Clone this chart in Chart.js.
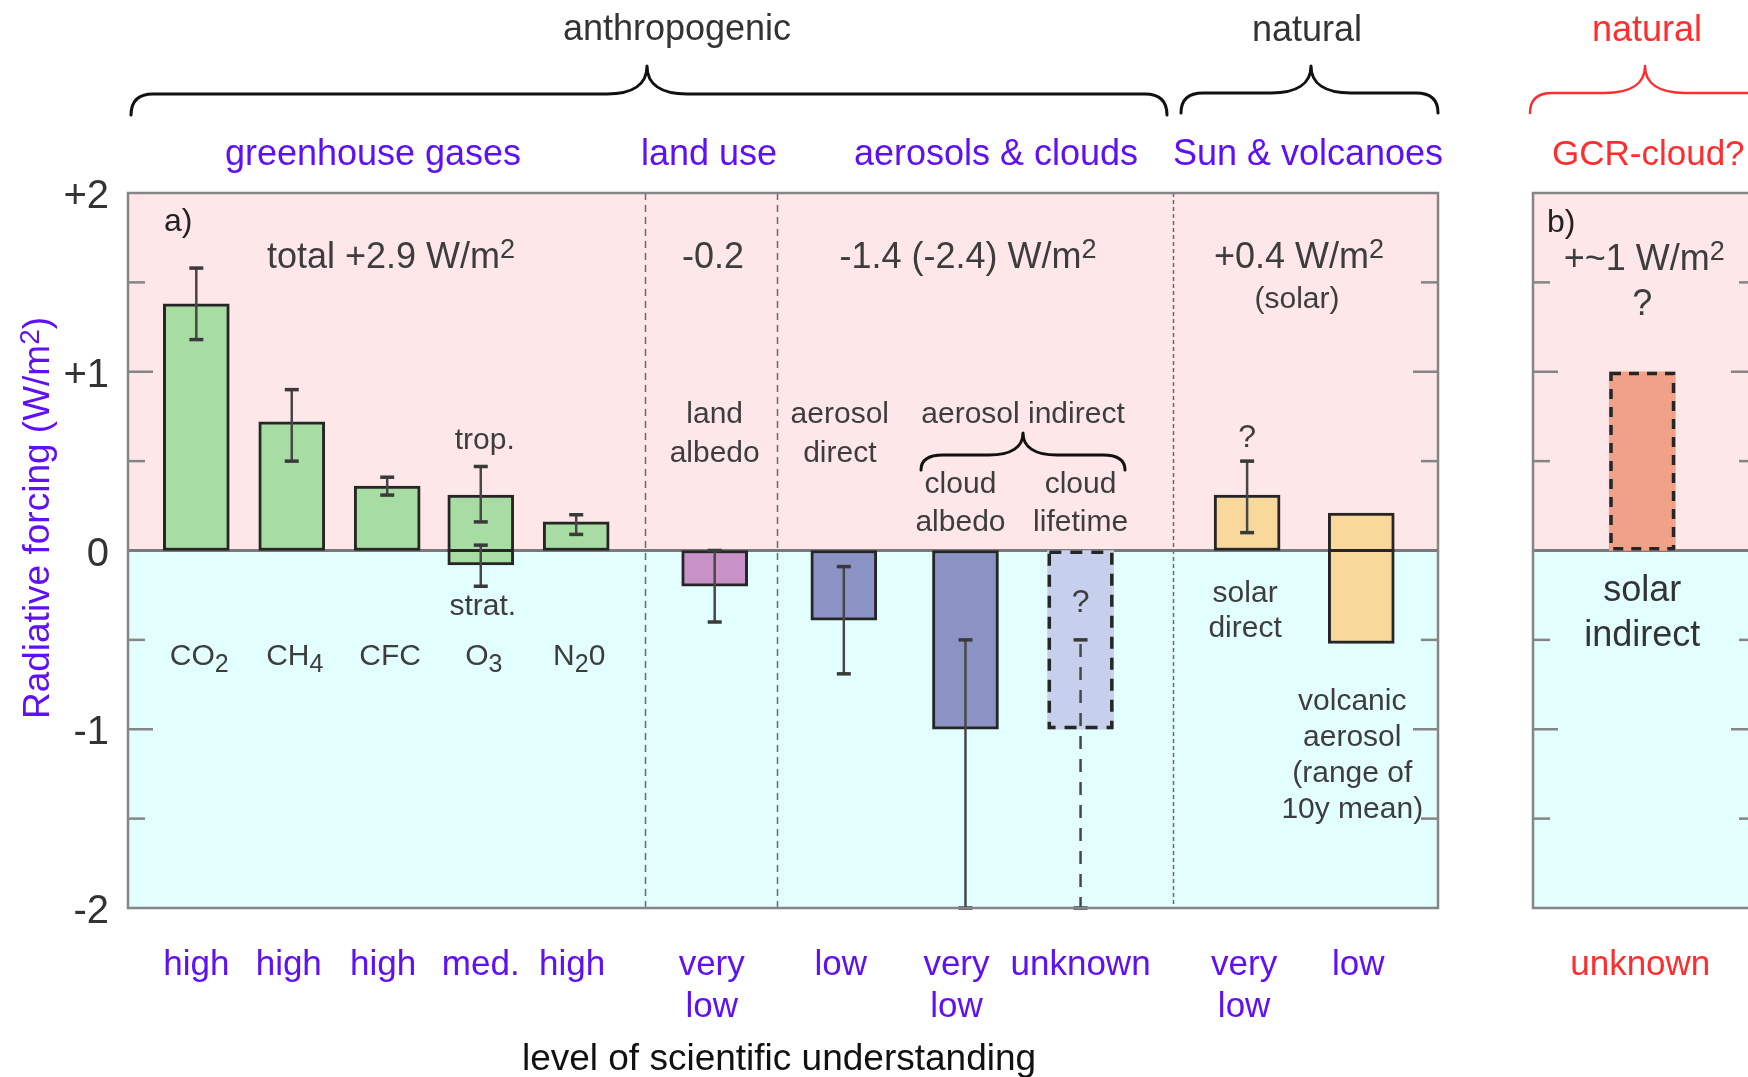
<!DOCTYPE html>
<html>
<head>
<meta charset="utf-8">
<title>Radiative forcing</title>
<script src="https://cdn.jsdelivr.net/npm/chart.js@4/dist/chart.umd.min.js"></script>
<style>
  html, body { margin: 0; padding: 0; background: #fff; overflow: hidden; }
  #wrap { position: relative; width: 1748px; height: 1077px; overflow: hidden; background: #fff; }
  canvas { position: absolute; top: 0; }
  #panelA { left: 0; }
  #panelB { left: 1440px; }
</style>
</head>
<body>
<div id="wrap">
  <canvas id="panelA" width="1748" height="1077"></canvas>
  <canvas id="panelB" width="330" height="1077"></canvas>
</div>
<script>
// ---------------- data ----------------
// panel a: forcing agents (W/m2). "_" marks a subscript, "^" a superscript.
const forcingLabels = ['CO_2', 'CH_4', 'CFC', 'O_3', 'N_20', 'land albedo', 'aerosol direct',
                       'cloud albedo', 'cloud lifetime', 'solar direct', 'volcanic aerosol'];
const forcingColumn = [0.73, 1.75, 2.77, 3.77, 4.79, 6.27, 7.65, 8.95, 10.18, 11.96, 13.18];
const forcingLow  = [0, 0, 0, -0.08, 0, -0.20, -0.39, -1.00, -1.00, 0, -0.52];
const forcingHigh = [1.38, 0.72, 0.36, 0.31, 0.16, 0, 0, 0, 0, 0.31, 0.21];

// uncertainty ranges; O3 has two (tropospheric and stratospheric)
const errorBar  = [0, 1, 2, 3, 3, 4, 5, 6, 7, 8, 9];
const errorLow  = [1.18, 0.50, 0.31, 0.16, -0.20, 0.09, -0.40, -0.69, -2.00, -2.00, 0.10];
const errorHigh = [1.58, 0.90, 0.41, 0.47, 0.03, 0.20, 0.00, -0.09, -0.50, -0.50, 0.50];

// level of scientific understanding under each bar
const understanding = [['high'], ['high'], ['high'], ['med.'], ['high'], ['very', 'low'], ['low'],
                       ['very', 'low'], ['unknown'], ['very', 'low'], ['low']];

// group totals and group boundaries (x axis units)
const groupTotals = ['total +2.9 W/m^2', '-0.2', '-1.4 (-2.4) W/m^2', '+0.4 W/m^2'];
const groupBoundaries = [5.52, 6.94, 11.17];

const yTickValues = [-2, -1, 0, 1, 2];
const yTickLabels = ['-2', '-1', '0', '+1', '+2'];
const yMinorTicks = [-1.5, -1, -0.5, 0.5, 1, 1.5];

// panel b: GCR-cloud (solar indirect) estimate
const gcrLabel = ['solar', 'indirect'];
const gcrColumn = [0.49];
const gcrLow = [0];
const gcrHigh = [1.0];

// ---------------- styles ----------------
const FONT = '"Liberation Sans", Arial, Helvetica, sans-serif';
Chart.defaults.font.family = FONT;
const PURPLE = '#5f10f5', RED = '#ff2d2d', INK = '#3d3d3d', DARK = '#262626';
const PINK = '#fde7e9', CYAN = '#e3fefe', FRAME = '#858585';
const fillsA = ['#a7dca3', '#a7dca3', '#a7dca3', '#a7dca3', '#a7dca3', '#c892c8', '#8b93c4',
                '#8b93c4', '#c6cfec', '#f9d99b', '#f9d99b'];
const dashedA = [false, false, false, false, false, false, false, false, true, false, false];
// small horizontal nudges of the understanding labels (px)
const understandingNudge = [0, -3, -4, 0, -4, -3, -3, -9, 0, -3, -3];

// ---------------- drawing helpers ----------------
function setFont(ctx, size) { ctx.font = size + 'px ' + FONT; }

function line(ctx, x1, y1, x2, y2) {
  ctx.beginPath(); ctx.moveTo(x1, y1); ctx.lineTo(x2, y2); ctx.stroke();
}

// split "W/m^2" / "CO_2" into pieces [text, size, baseline shift]
function pieces(str, size) {
  const out = [];
  const re = /([\^_])(\d)/g;
  let last = 0, m;
  while ((m = re.exec(str))) {
    if (m.index > last) out.push([str.slice(last, m.index), size, 0]);
    if (m[1] === '^') out.push([m[2], Math.round(size * 0.75), -Math.round(size * 0.27)]);
    else out.push([m[2], Math.round(size * 0.82), Math.round(size * 0.24)]);
    last = re.lastIndex;
  }
  if (last < str.length) out.push([str.slice(last), size, 0]);
  return out;
}

function text(ctx, str, x, y, size, color, align) {
  const parts = pieces(str, size);
  ctx.save();
  ctx.fillStyle = color;
  ctx.textBaseline = 'alphabetic';
  ctx.textAlign = 'left';
  let total = 0;
  const widths = parts.map(([t, s]) => { setFont(ctx, s); const w = ctx.measureText(t).width; total += w; return w; });
  let cx = align === 'left' ? x : align === 'right' ? x - total : x - total / 2;
  parts.forEach(([t, s, dy], i) => { setFont(ctx, s); ctx.fillText(t, cx, y + dy); cx += widths[i]; });
  ctx.restore();
}

function lines(ctx, rows, x, y, step, size, color) {
  rows.forEach((r, i) => text(ctx, r, x, y + i * step, size, color, 'center'));
}

function brace(ctx, x1, x2, xt, yEnd, yLine, yTip, color, lw) {
  const r = Math.min(22, (x2 - x1) / 8), s = Math.min(40, (x2 - x1) / 6);
  const h = yLine - yTip;
  ctx.save();
  ctx.strokeStyle = color; ctx.lineWidth = lw; ctx.lineCap = 'round'; ctx.lineJoin = 'round';
  ctx.beginPath();
  ctx.moveTo(x1, yEnd);
  ctx.quadraticCurveTo(x1, yLine, x1 + r, yLine);
  ctx.lineTo(xt - s, yLine);
  ctx.bezierCurveTo(xt - s * 0.35, yLine, xt, yLine - h * 0.35, xt, yTip);
  ctx.bezierCurveTo(xt, yLine - h * 0.35, xt + s * 0.35, yLine, xt + s, yLine);
  ctx.lineTo(x2 - r, yLine);
  ctx.quadraticCurveTo(x2, yLine, x2, yEnd);
  ctx.stroke();
  ctx.restore();
}

function paintBackground(chart) {
  const { ctx, chartArea: a, scales: { y } } = chart;
  const y0 = y.getPixelForValue(0);
  ctx.save();
  ctx.fillStyle = PINK; ctx.fillRect(a.left, a.top, a.width, y0 - a.top);
  ctx.fillStyle = CYAN; ctx.fillRect(a.left, y0, a.width, a.bottom - y0);
  ctx.restore();
}

function zeroLine(chart) {
  const { ctx, chartArea: a, scales: { y } } = chart;
  const y0 = y.getPixelForValue(0);
  ctx.save(); ctx.strokeStyle = '#7a7a7a'; ctx.lineWidth = 3;
  line(ctx, a.left, y0, a.right, y0);
  ctx.restore();
}

function frame(chart) {
  const { ctx, chartArea: a, scales: { y } } = chart;
  ctx.save();
  ctx.strokeStyle = FRAME; ctx.lineWidth = 2.5;
  ctx.strokeRect(a.left, a.top, a.width, a.height);
  yMinorTicks.forEach(v => {
    const py = y.getPixelForValue(v);
    const len = Number.isInteger(v) ? 25 : 17;
    line(ctx, a.left, py, a.left + len, py);
    line(ctx, a.right - len, py, a.right, py);
  });
  ctx.restore();
}

function dashedOutline(ctx, p, dash) {
  const left = p.x - p.width / 2, top = Math.min(p.y, p.base), h = Math.abs(p.base - p.y);
  ctx.save();
  ctx.strokeStyle = DARK; ctx.lineWidth = 3.5; ctx.setLineDash(dash);
  ctx.strokeRect(left + 1.75, top + 1.75, p.width - 3.5, h - 3.5);
  ctx.restore();
}

function errorLine(ctx, px, yLo, yHi, dashed) {
  ctx.save();
  ctx.strokeStyle = '#474747'; ctx.lineWidth = 2.5;
  if (dashed) { ctx.setLineDash([13, 10]); ctx.lineDashOffset = -4; }
  line(ctx, px, yHi, px, yLo);
  ctx.setLineDash([]);
  ctx.lineWidth = 3.5; ctx.strokeStyle = '#3a3a3a';
  line(ctx, px - 7, yHi, px + 7, yHi);
  line(ctx, px - 7, yLo, px + 7, yLo);
  ctx.restore();
}

// ---------------- panel a ----------------
const panelAArt = {
  id: 'panelAArt',
  beforeDraw(chart) { paintBackground(chart); },
  beforeDatasetsDraw(chart) {
    const { ctx, chartArea: a, scales: { x } } = chart;
    ctx.save();
    ctx.strokeStyle = '#6a6a6a'; ctx.lineWidth = 1.5;
    groupBoundaries.forEach((b, i) => {
      ctx.setLineDash(i === groupBoundaries.length - 1 ? [4, 3] : [7, 5]);
      const px = Math.round(x.getPixelForValue(b)) + 0.5;
      line(ctx, px, a.top, px, a.bottom);
    });
    ctx.restore();
    zeroLine(chart);
  },
  afterDatasetsDraw(chart) {
    const { ctx, scales: { x, y } } = chart;
    const meta = chart.getDatasetMeta(0);
    const y0 = y.getPixelForValue(0);
    meta.data.forEach((bar, i) => {
      const p = bar.getProps(['x', 'y', 'base', 'width'], true);
      if (dashedA[i]) dashedOutline(ctx, p, [12, 9]);
      if (forcingLow[i] < 0 && forcingHigh[i] > 0) {
        ctx.save(); ctx.strokeStyle = DARK; ctx.lineWidth = 3;
        line(ctx, p.x - p.width / 2, y0, p.x + p.width / 2, y0);
        ctx.restore();
      }
    });
    errorBar.forEach((b, k) => {
      errorLine(ctx, x.getPixelForValue(forcingColumn[b]), y.getPixelForValue(errorLow[k]),
                y.getPixelForValue(errorHigh[k]), dashedA[b]);
    });
    frame(chart);
  },
  afterDraw(chart) {
    const { ctx, scales: { x } } = chart;
    const cx = i => x.getPixelForValue(forcingColumn[i]);

    // group headers
    text(ctx, 'anthropogenic', 677, 40, 36, '#333', 'center');
    text(ctx, 'natural', 1307, 41, 36, '#333', 'center');
    brace(ctx, 131, 1167, 647, 115, 94, 66, '#111', 3);
    brace(ctx, 1181, 1438, 1311, 113, 93, 66, '#111', 3);
    text(ctx, 'greenhouse gases', 373, 165, 36, PURPLE, 'center');
    text(ctx, 'land use', 709, 165, 36, PURPLE, 'center');
    text(ctx, 'aerosols & clouds', 996, 165, 36, PURPLE, 'center');
    text(ctx, 'Sun & volcanoes', 1308, 165, 36, PURPLE, 'center');

    // y axis title
    ctx.save();
    ctx.translate(36, 518); ctx.rotate(-Math.PI / 2);
    text(ctx, 'Radiative forcing (W/m^2)', 0, 13, 37, PURPLE, 'center');
    ctx.restore();

    // panel texts
    text(ctx, 'a)', 164, 231, 32, '#222', 'left');
    text(ctx, groupTotals[0], 391, 268, 36, INK, 'center');
    text(ctx, groupTotals[1], 713, 268, 36, INK, 'center');
    text(ctx, groupTotals[2], 968, 268, 36, INK, 'center');
    text(ctx, groupTotals[3], 1299, 268, 36, INK, 'center');
    text(ctx, '(solar)', 1297, 308, 30, INK, 'center');

    lines(ctx, ['land', 'albedo'], cx(5), 423, 39, 30, INK);
    lines(ctx, ['aerosol', 'direct'], cx(6) - 4, 423, 39, 30, INK);
    text(ctx, 'aerosol indirect', 1023, 423, 30, INK, 'center');
    brace(ctx, 921, 1125, 1023, 470, 455, 433, '#111', 3);
    lines(ctx, ['cloud', 'albedo'], cx(7) - 5, 493, 38, 30, INK);
    lines(ctx, ['cloud', 'lifetime'], cx(8), 493, 38, 30, INK);
    text(ctx, 'trop.', cx(3) + 4, 449, 30, INK, 'center');
    text(ctx, 'strat.', cx(3) + 2, 615, 30, INK, 'center');
    for (let i = 0; i < 5; i++) text(ctx, forcingLabels[i], cx(i) + 3, 665, 30, INK, 'center');
    text(ctx, '?', cx(9), 447, 32, INK, 'center');
    text(ctx, '?', cx(8), 612, 32, INK, 'center');
    lines(ctx, ['solar', 'direct'], cx(9) - 2, 602, 35, 30, INK);
    lines(ctx, ['volcanic', 'aerosol', '(range of', '10y mean)'], cx(10) - 9, 710, 36, 30, INK);

    // level of scientific understanding
    understanding.forEach((rows, i) => lines(ctx, rows, cx(i) + understandingNudge[i], 975, 42, 35, PURPLE));
    text(ctx, 'level of scientific understanding', 779, 1070, 37, '#111', 'center');
  }
};

new Chart(document.getElementById('panelA'), {
  type: 'bar',
  data: {
    datasets: [{
      label: 'radiative forcing',
      data: forcingColumn.map((c, i) => ({ x: c, y: [forcingLow[i], forcingHigh[i]] })),
      backgroundColor: fillsA,
      borderColor: DARK,
      borderWidth: dashedA.map(d => (d ? 0 : 3)),
      borderSkipped: false,
      barThickness: 66,
      grouped: false
    }]
  },
  options: {
    responsive: false,
    animation: false,
    devicePixelRatio: 1,
    layout: { padding: { left: 0, right: 310, top: 193, bottom: 169 } },
    plugins: { legend: { display: false }, tooltip: { enabled: false } },
    scales: {
      x: { type: 'linear', min: 0, max: 14, offset: false, grid: { offset: false }, display: false },
      y: {
        min: -2, max: 2,
        afterFit: s => { s.width = 128; },
        ticks: {
          stepSize: 1,
          padding: 19,
          labelOffset: 4,
          color: '#333',
          font: { size: 40 },
          callback: v => { const k = yTickValues.indexOf(v); return k >= 0 ? yTickLabels[k] : ''; }
        },
        grid: { display: false, drawTicks: false, tickLength: 0 },
        border: { display: false }
      }
    }
  },
  plugins: [panelAArt]
});

// ---------------- panel b ----------------
const PANEL_B_LEFT = 1440;
const panelBArt = {
  id: 'panelBArt',
  beforeDraw(chart) { paintBackground(chart); },
  beforeDatasetsDraw(chart) { zeroLine(chart); },
  afterDatasetsDraw(chart) {
    const meta = chart.getDatasetMeta(0);
    meta.data.forEach(bar => dashedOutline(chart.ctx, bar.getProps(['x', 'y', 'base', 'width'], true), [10, 8]));
    frame(chart);
  },
  afterDraw(chart) {
    const { ctx, scales: { x } } = chart;
    const cx = x.getPixelForValue(gcrColumn[0]) + PANEL_B_LEFT;
    ctx.save();
    ctx.translate(-PANEL_B_LEFT, 0);
    text(ctx, 'natural', 1647, 41, 36, RED, 'center');
    brace(ctx, 1530, 1800, 1645, 113, 93, 66, RED, 2.5);
    text(ctx, 'GCR-cloud?', 1552, 165, 35, RED, 'left');
    text(ctx, 'b)', 1547, 232, 32, '#222', 'left');
    text(ctx, '+~1 W/m^2', cx + 2, 270, 36, INK, 'center');
    text(ctx, '?', cx, 315, 36, INK, 'center');
    lines(ctx, gcrLabel, cx, 601, 45, 36, '#333');
    text(ctx, 'unknown', cx - 2, 975, 35, RED, 'center');
    ctx.restore();
  }
};

new Chart(document.getElementById('panelB'), {
  type: 'bar',
  data: {
    datasets: [{
      label: 'GCR-cloud',
      data: gcrColumn.map((c, i) => ({ x: c, y: [gcrLow[i], gcrHigh[i]] })),
      backgroundColor: '#f2a189',
      borderWidth: 0,
      barThickness: 66
    }]
  },
  options: {
    responsive: false,
    animation: false,
    devicePixelRatio: 1,
    layout: { padding: { left: 93, right: 14, top: 193, bottom: 169 } },
    plugins: { legend: { display: false }, tooltip: { enabled: false } },
    scales: {
      x: { type: 'linear', min: 0, max: 1, offset: false, grid: { offset: false }, display: false },
      y: { min: -2, max: 2, display: false }
    }
  },
  plugins: [panelBArt]
});
</script>
</body>
</html>
